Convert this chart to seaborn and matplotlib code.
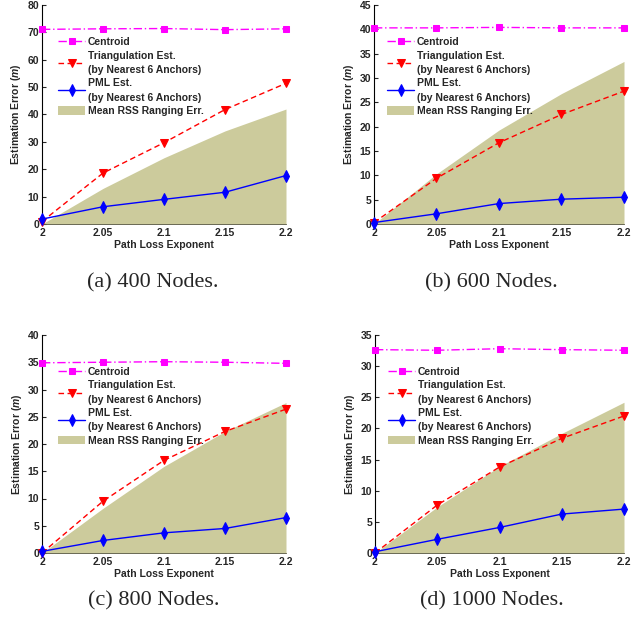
import numpy as np
import pandas as pd
import matplotlib
matplotlib.use("Agg")
import matplotlib.pyplot as plt
from matplotlib.patches import Patch
import seaborn as sns

sns.set_theme(style="ticks")
plt.rcParams["font.family"] = ["Liberation Sans", "DejaVu Sans"]
plt.rcParams["font.weight"] = "bold"
plt.rcParams["mathtext.fontset"] = "custom"
plt.rcParams["mathtext.it"] = "Liberation Sans:italic:bold"
plt.rcParams["mathtext.rm"] = "Liberation Sans:bold"

# Path loss exponent values on the x axis
path_loss = [2.0, 2.05, 2.1, 2.15, 2.2]
tick_labels = ["2", "2.05", "2.1", "2.15", "2.2"]

# Estimation errors (m) for each network size
centroid_400 = [71.1, 71.3, 71.4, 71.0, 71.3]
triang_400 = [0.9, 18.6, 29.7, 41.8, 51.4]
pml_400 = [1.8, 6.3, 9.0, 11.6, 17.7]
rss_400 = [0.0, 13.0, 24.2, 34.0, 42.0]

centroid_600 = [40.3, 40.3, 40.4, 40.3, 40.3]
triang_600 = [0.3, 9.4, 16.7, 22.5, 27.3]
pml_600 = [0.3, 2.1, 4.2, 5.1, 5.5]
rss_600 = [0.0, 10.3, 19.3, 26.8, 33.4]

centroid_800 = [34.9, 35.0, 35.1, 35.0, 34.8]
triang_800 = [0.0, 9.5, 17.0, 22.3, 26.4]
pml_800 = [0.3, 2.3, 3.7, 4.5, 6.5]
rss_800 = [0.0, 8.2, 15.9, 22.3, 27.6]

centroid_1000 = [32.65, 32.55, 32.8, 32.65, 32.55]
triang_1000 = [0.0, 7.7, 13.8, 18.4, 22.0]
pml_1000 = [0.2, 2.2, 4.1, 6.25, 7.05]
rss_1000 = [0.0, 7.4, 13.9, 19.2, 24.2]

captions = ["(a) 400 Nodes.", "(b) 600 Nodes.", "(c) 800 Nodes.", "(d) 1000 Nodes."]
y_tops = [80, 45, 40, 35]
y_steps = [10, 5, 5, 5]

panels = [
    (centroid_400, triang_400, pml_400, rss_400),
    (centroid_600, triang_600, pml_600, rss_600),
    (centroid_800, triang_800, pml_800, rss_800),
    (centroid_1000, triang_1000, pml_1000, rss_1000),
]

FILL = "#cccb9c"
FS = 7.5

fig = plt.figure(figsize=(6.44, 6.2), dpi=100)
W, H = 644.0, 620.0
# axes boxes in pixels: (left, top, right, bottom)
boxes = [(42, 5, 286, 224), (374, 5, 624, 224),
         (42, 335, 286, 553), (375, 335, 624, 553)]
caption_pos = [(153, 283), (491, 283), (154, 601), (492, 601)]

for i, (cen, tri, pml, rss) in enumerate(panels):
    l, t, r, b = boxes[i]
    ax = fig.add_axes([l / W, 1 - b / H, (r - l) / W, (b - t) / H])
    df = pd.DataFrame({"x": path_loss, "centroid": cen, "tri": tri,
                       "pml": pml, "rss": rss})

    ax.fill_between(df["x"], 0, df["rss"], color=FILL, lw=0, zorder=1)
    sns.lineplot(data=df, x="x", y="centroid", ax=ax, color="#ff00ff",
                 linestyle=(0, (6, 2, 1, 2)), lw=1.0, marker="s", markersize=4.3,
                 markeredgecolor="#ff00ff", clip_on=False, zorder=3)
    sns.lineplot(data=df, x="x", y="tri", ax=ax, color="red",
                 linestyle=(0, (4, 2.5)), lw=1.0, marker="v", markersize=5.8,
                 markeredgecolor="red", clip_on=False, zorder=3)
    sns.lineplot(data=df, x="x", y="pml", ax=ax, color="blue",
                 linestyle="-", lw=1.0, marker="d", markersize=5.8,
                 markeredgecolor="blue", clip_on=False, zorder=4)

    ax.set_xlim(2.0, 2.2)
    ax.set_ylim(0, y_tops[i])
    ax.set_xticks(path_loss)
    ax.set_xticklabels(tick_labels, fontsize=FS, fontweight="bold")
    yt = np.arange(0, y_tops[i] + 1, y_steps[i])
    ax.set_yticks(yt)
    ax.set_yticklabels([str(v) for v in yt], fontsize=FS, fontweight="bold")
    ax.tick_params(axis="y", direction="in", length=3, width=0.8, pad=2)
    ax.tick_params(axis="x", length=0, pad=3)
    ax.set_xlabel("Path Loss Exponent", fontsize=FS, fontweight="bold", labelpad=1)
    ax.set_ylabel(r"Estimation Error ($m$)", fontsize=FS, fontweight="bold", labelpad=3)
    for s in ["top", "right"]:
        ax.spines[s].set_visible(False)
    ax.spines["left"].set_linewidth(0.8)
    ax.spines["left"].set_color("black")
    ax.spines["bottom"].set_linewidth(0.6)
    ax.spines["bottom"].set_color("#55553f")

    handles = [ax.lines[0], ax.lines[1], ax.lines[2],
               Patch(facecolor=FILL, edgecolor="none")]
    labels = ["Centroid", "Triangulation Est.\n(by Nearest 6 Anchors)",
              "PML Est.\n(by Nearest 6 Anchors)", "Mean RSS Ranging Err."]
    x_anchor = 0.057 if i % 2 == 0 else 0.045
    leg = ax.legend(handles, labels, loc="upper left",
                    bbox_to_anchor=(x_anchor, 0.862),
                    frameon=False, prop={"weight": "bold", "size": FS},
                    handlelength=2.6, handletextpad=0.25, labelspacing=0.31,
                    handleheight=0.9,
                    borderpad=0.2, borderaxespad=0.0)
    for txt in leg.get_texts():
        txt.set_linespacing(1.55)

    cx, cy = caption_pos[i]
    fig.text(cx / W, 1 - cy / H, captions[i], ha="center", va="center",
             fontsize=16, family="Liberation Serif", fontweight="normal")

fig.savefig("out.png", dpi=100)
